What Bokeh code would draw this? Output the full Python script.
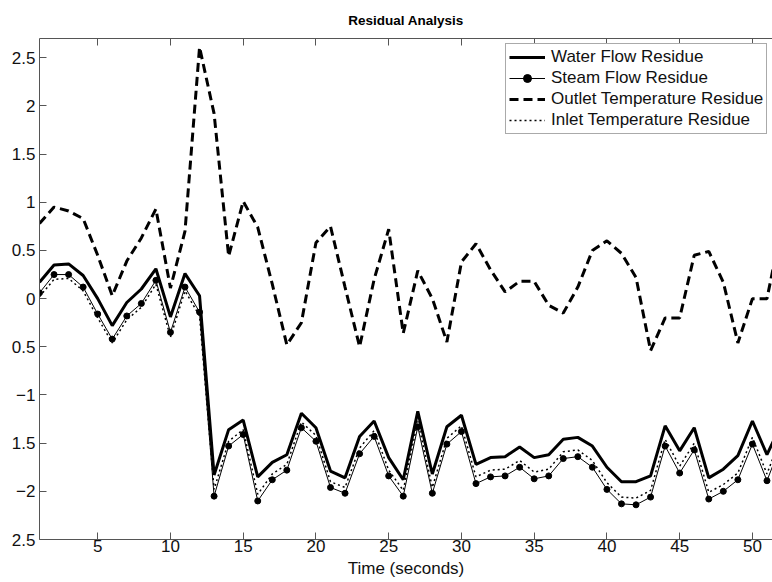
from bokeh.plotting import figure
from bokeh.models import (ColumnDataSource, Legend, LegendItem, LinearAxis,
                          FixedTicker, Range1d)
from bokeh.embed import file_html
from bokeh.resources import INLINE

# ---- data ----
time_s = list(range(1, 53))
water = [0.17, 0.35, 0.36, 0.24, 0.00, -0.28, -0.04, 0.10, 0.31, -0.19,
         0.26, 0.03, -1.83, -1.36, -1.26, -1.85, -1.70, -1.62, -1.19, -1.34,
         -1.79, -1.86, -1.43, -1.27, -1.65, -1.88, -1.17, -1.82, -1.33, -1.21,
         -1.72, -1.65, -1.64, -1.54, -1.65, -1.62, -1.46, -1.44, -1.53, -1.75,
         -1.90, -1.90, -1.84, -1.32, -1.58, -1.34, -1.86, -1.77, -1.63, -1.27,
         -1.62, -1.30]
steam = [0.06, 0.25, 0.25, 0.12, -0.16, -0.42, -0.18, -0.05, 0.19, -0.35,
         0.12, -0.14, -2.05, -1.53, -1.41, -2.10, -1.88, -1.78, -1.34, -1.48,
         -1.96, -2.02, -1.61, -1.43, -1.84, -2.05, -1.33, -2.02, -1.51, -1.38,
         -1.92, -1.85, -1.84, -1.75, -1.87, -1.84, -1.66, -1.64, -1.75, -1.98,
         -2.13, -2.14, -2.06, -1.53, -1.81, -1.57, -2.08, -2.00, -1.88, -1.51,
         -1.89, -1.50]
outlet = [0.78, 0.95, 0.91, 0.83, 0.45, 0.03, 0.39, 0.63, 0.93, 0.11,
          0.70, 2.61, 1.92, 0.44, 1.01, 0.74, 0.15, -0.48, -0.25, 0.58,
          0.75, 0.12, -0.50, 0.20, 0.72, -0.36, 0.29, 0.00, -0.45, 0.38,
          0.57, 0.30, 0.07, 0.18, 0.18, -0.07, -0.15, 0.12, 0.50, 0.60,
          0.47, 0.22, -0.54, -0.20, -0.20, 0.45, 0.49, 0.17, -0.46, 0.00,
          0.00, 0.74]
inlet = [0.02, 0.20, 0.21, 0.08, -0.20, -0.46, -0.22, -0.09, 0.15, -0.40,
         0.08, -0.18, -1.98, -1.48, -1.36, -2.03, -1.82, -1.72, -1.28, -1.42,
         -1.90, -1.96, -1.55, -1.37, -1.78, -1.99, -1.27, -1.96, -1.45, -1.32,
         -1.85, -1.78, -1.77, -1.68, -1.80, -1.77, -1.59, -1.57, -1.68, -1.91,
         -2.06, -2.07, -1.99, -1.46, -1.74, -1.50, -2.01, -1.93, -1.81, -1.44,
         -1.82, -1.42]

x_ticks = [5, 10, 15, 20, 25, 30, 35, 40, 45, 50]
y_ticks = [2.5, 2.0, 1.5, 1.0, 0.5, 0.0, -0.5, -1.0, -1.5, -2.0, -2.5]
y_tick_labels = ["2.5", "2", "1.5", "1", "0.5", "0", "0.5", "\u22121", "1.5", "\u22122", "2.5"]

series_names = ["Water Flow Residue", "Steam Flow Residue",
                "Outlet Temperature Residue", "Inlet Temperature Residue"]

FONT = "Liberation Sans"
AXIS_COL = "#555555"

src = ColumnDataSource(dict(t=time_s, water=water, steam=steam, outlet=outlet, inlet=inlet))

p = figure(width=772, height=582, output_backend="svg", toolbar_location=None,
           x_range=Range1d(1, 51.38), y_range=Range1d(-2.5, 2.7),
           min_border_left=39, min_border_right=0, min_border_top=37,
           min_border_bottom=43, background_fill_color="white",
           border_fill_color="white", outline_line_color=None)

p.title.text = "Residual Analysis"
p.title.align = "center"
p.title.text_font = FONT
p.title.text_font_size = "13.5px"
p.title.text_font_style = "bold"
p.title.text_color = "black"
p.title.standoff = 21

p.xgrid.visible = False
p.ygrid.visible = False

r_water = p.line("t", "water", source=src, line_color="black", line_width=3)
r_steam = p.line("t", "steam", source=src, line_color="black", line_width=1)
r_steam_m = p.scatter("t", "steam", source=src, marker="circle", size=6,
                      fill_color="black", line_color="black")
r_outlet = p.line("t", "outlet", source=src, line_color="black", line_width=3,
                  line_dash="9 5")
r_inlet = p.line("t", "inlet", source=src, line_color="black", line_width=1.5,
                 line_dash="2 3")

def style_axis(ax):
    ax.axis_line_color = AXIS_COL
    ax.major_tick_line_color = AXIS_COL
    ax.major_tick_in = 7
    ax.major_tick_out = 0
    ax.minor_tick_line_color = None
    ax.major_label_text_font = FONT
    ax.major_label_text_font_size = "17px"
    ax.major_label_text_color = "#111111"

xa = p.xaxis[0]
xa.ticker = FixedTicker(ticks=x_ticks)
style_axis(xa)
xa.major_label_standoff = 0
xa.axis_label = "Time (seconds)"
xa.axis_label_text_font = FONT
xa.axis_label_text_font_size = "17px"
xa.axis_label_text_font_style = "normal"
xa.axis_label_text_color = "#111111"
xa.axis_label_standoff = 4

ya = p.yaxis[0]
ya.ticker = FixedTicker(ticks=y_ticks)
style_axis(ya)
ya.major_label_standoff = 4
ya.major_label_overrides = {v: s for v, s in zip(y_ticks, y_tick_labels)}

top = LinearAxis(ticker=FixedTicker(ticks=x_ticks))
style_axis(top)
top.major_label_text_font_size = "1px"
top.major_label_text_color = None
top.major_label_standoff = 0
p.add_layout(top, "above")

legend = Legend(items=[
    LegendItem(label=series_names[0], renderers=[r_water]),
    LegendItem(label=series_names[1], renderers=[r_steam, r_steam_m]),
    LegendItem(label=series_names[2], renderers=[r_outlet]),
    LegendItem(label=series_names[3], renderers=[r_inlet]),
], location=(466, 405))
legend.label_text_font = FONT
legend.label_text_font_size = "17px"
legend.label_text_color = "#111111"
legend.glyph_width = 36
legend.glyph_height = 20
legend.label_height = 20
legend.label_standoff = 6
legend.spacing = 1
legend.padding = 3
legend.margin = 0
legend.border_line_color = "#555555"
legend.border_line_width = 1
legend.background_fill_color = "white"
legend.background_fill_alpha = 1.0
p.add_layout(legend, "center")

open("out.html", "w").write(file_html(p, INLINE))
